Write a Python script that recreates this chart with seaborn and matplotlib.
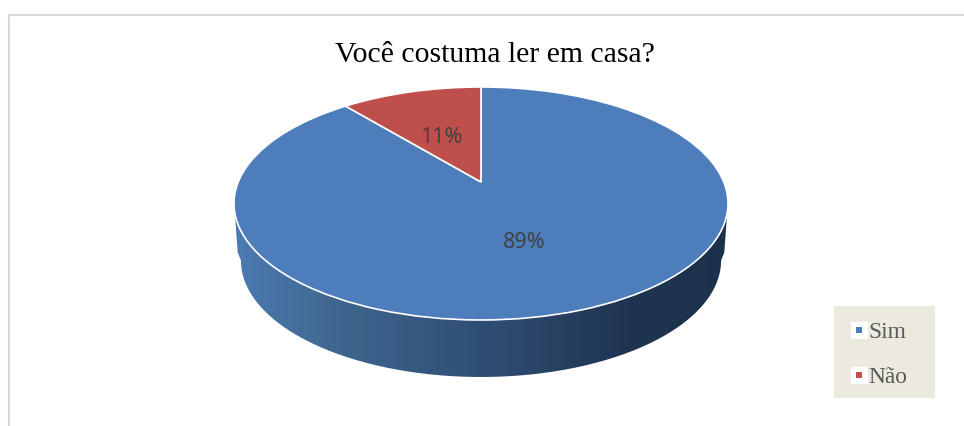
import numpy as np
import matplotlib
matplotlib.use("Agg")
import matplotlib.pyplot as plt
import seaborn as sns
from matplotlib.legend_handler import HandlerTuple
from matplotlib.lines import Line2D
from matplotlib.patches import PathPatch, Rectangle
from matplotlib.path import Path
from matplotlib.transforms import Transform

TITLE = "Você costuma ler em casa?"
categories = ["Sim", "Não"]
shares = [89, 11]
slice_colors = ["#4D7EBB", "#BE4F4C"]
wall_colors = ["#4C7BB3", "#40678F", "#34567F", "#2B4669", "#1E3451", "#1C324C"]

W, H = 964, 426


class Tilt(Transform):
    """Projective tilt of the unit disc, which moves the apex back along y."""
    input_dims = output_dims = 2
    has_inverse = False
    is_affine = False

    def __init__(self, b):
        super().__init__()
        self.b = b

    def transform_non_affine(self, xy):
        xy = np.asarray(xy, dtype=float)
        d = 1 + self.b * xy[:, 1]
        return np.column_stack([xy[:, 0] * np.sqrt(1 - self.b ** 2) / d,
                                (xy[:, 1] + self.b) / d])


sns.set_theme(style="white")
fig = plt.figure(figsize=(W / 100, H / 100), dpi=100, facecolor="white")

# Page-level frame and legend panel, laid out in pixels
frame = fig.add_axes([0, 0, 1, 1], zorder=0)
frame.set_xlim(0, W)
frame.set_ylim(H, 0)
frame.axis("off")
frame.plot([8.5, 8.5, W], [H, 14.5, 14.5], color="#D9D9D9", lw=1.5,
           solid_joinstyle="miter")
frame.add_patch(Rectangle((834, 306), 101, 92, fc="#ECE9DF", ec="none"))

# The axes box is the top ellipse of the disc
left, right, top, bottom = 234, 728, 87, 320
ax = fig.add_axes([left / W, 1 - bottom / H, (right - left) / W, (bottom - top) / H], zorder=1)
palette = sns.color_palette(slice_colors)

# Side wall of the disc: a horizontal gradient clipped to the band under the rim
t = np.linspace(np.pi, 2 * np.pi, 200)
drop = 57 / 116.5
inner = 0.972
rim = np.column_stack([np.cos(t), np.sin(t)])[::-1]
low = np.column_stack([inner * np.cos(t), np.sin(t) - drop])
shoulder_l = [[-0.995, -0.13], [-0.985, -0.42]]
shoulder_r = [[0.985, -0.42], [0.995, -0.13]]
band = np.vstack([rim[rim[:, 1] <= -0.13], shoulder_l, low[low[:, 1] <= -0.42], shoulder_r])
band_patch = PathPatch(Path(band, closed=False), transform=ax.transData, fc="none", ec="none")
band_patch.set_clip_on(False)
ax.add_patch(band_patch)
ramp = np.array(sns.blend_palette(wall_colors, 256))[None, :, :]
img = ax.imshow(ramp, extent=(-1, 1, -1.6, 0), aspect="auto", zorder=1, interpolation="bilinear")
img.set_clip_box(fig.bbox)
img.set_clip_path(band_patch)

wedges, _ = ax.pie(shares, colors=palette, startangle=90, counterclock=False, radius=1,
                   wedgeprops=dict(edgecolor="white", linewidth=1.2, zorder=2))
ax.set_aspect("auto")
ax.set_xlim(-1, 1)
ax.set_ylim(-1, 1)
ax.axis("off")
tilt = Tilt(21.5 / 116.5)
for w in wedges:
    w.set_transform(tilt + ax.transData)
    w.set_zorder(2)

# Percentage labels
label_xy = [(524.5, 242.5), (441.5, 137.5)]
for (x, y), v in zip(label_xy, shares):
    fig.text(x / W, 1 - y / H, f"{v}%", ha="center", va="center", fontsize=15.5,
             family="Open Sans", color="#404040", zorder=5)

fig.text(494.5 / W, 1 - 55 / H, TITLE, ha="center", va="center", fontsize=21.4,
         family="Liberation Serif", color="black")

# Legend: white tile behind each coloured square
handles = [(Line2D([], [], ls="", marker="s", ms=11, mfc="white", mec="white", mew=0.8),
            Line2D([], [], ls="", marker="s", ms=4.6, mfc=c, mec=c, mew=0))
           for c in palette]
leg = fig.legend(handles, categories, handler_map={tuple: HandlerTuple(ndivide=1, pad=0)},
                 loc="lower left", bbox_to_anchor=(834.5 / W, 1 - 399 / H),
                 bbox_transform=fig.transFigure, borderaxespad=0, frameon=False,
                 prop=dict(family="Liberation Serif", size=16.8), labelcolor="#595959",
                 handlelength=1.15, handletextpad=-0.15, labelspacing=1.03, borderpad=0.46)

fig.savefig("out.png", dpi=100)
